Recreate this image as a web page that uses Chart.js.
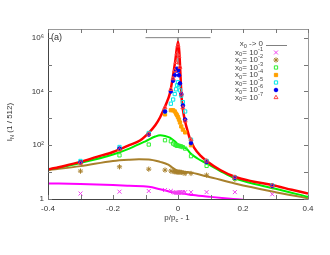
<!DOCTYPE html>
<html><head><meta charset="utf-8">
<script src="https://cdn.jsdelivr.net/npm/chart.js@4.4.0/dist/chart.umd.min.js"></script>
<style>html,body{margin:0;padding:0;background:#fff}</style>
</head><body>
<canvas id="c" width="330" height="255"></canvas>
<script>
// measured points (same p/pc-1 for every x0)
const ptX = [-0.3, -0.18, -0.09, -0.04, -0.022, -0.015, -0.01, -0.006, -0.003, 0, 0.003, 0.006, 0.01, 0.015, 0.022, 0.04, 0.088, 0.175, 0.29];
const pts1 = [1.6, 1.87, 1.98, 2.15, 2.0, 1.8, 1.75, 1.7, 1.7, 1.7, 1.75, 1.8, 1.8, 1.8, 1.8, 1.8, 1.8, 1.8, 1.5];
const pts2 = [10.9, 15.7, 12.9, 11.9, 11, 10.5, 10.3, 10.3, 10, 10, 10, 10, 9.8, 9.5, 8.9, 8.9, 7.7, 5.4, 2.9];
const pts3 = [23, 42, 106, 153, 140, 115, 105, 100, 95, 95, 95, 92, 90, 85, 75, 39, 17, 5.8, 3.0];
const pts4 = [22, 72, 260, 1400, 2000, 2000, 1800, 1500, 1300, 1100, 900, 700, 500, 380, 300, 100, 25, 6.3, 3.1];
const pts5 = [26, 86, 285, 1800, 3500, 5000, 8000, 12000, 17000, 22000, 17000, 11000, 7000, 4000, 1800, 160, 26, 6.4, 3.2];
const pts6 = [23, 75, 250, 1800, 10000, 25000, 40000, 60000, 70000, 60000, 40000, 20000, 8000, 3000, 900, 120, 24, 6.2, 3.1];
const pts7 = [22, 68, 260, 2500, 12000, 30000, 60000, 120000, 250000, 500000, 200000, 80000, 8000, 2500, 800, 160, 26, 6.5, 3.2];

// fitted curves
const limitX = [-0.1, 0, 0, 0, 0.1];
const limitY = [1e6, 1e6, 1e5, 1e6, 1e6];
const magX = [-0.4, -0.3, -0.2, -0.15, -0.09, -0.055, -0.03, -0.015, 0, 0.02, 0.046, 0.1, 0.17, 0.2, 0.3];
const magY = [3.8, 3.6, 3.3, 3.1, 2.85, 2.3, 1.95, 1.75, 1.65, 1.55, 1.4, 1.2, 1.0, 0.93, 0.7];
const brownX = [-0.4, -0.3, -0.2, -0.15, -0.12, -0.09, -0.055, -0.03, -0.015, 0, 0.03, 0.088, 0.175, 0.29, 0.4];
const brownY = [11.9, 16.7, 26, 29, 30, 29.5, 24, 19, 14, 11, 10, 7, 3.8, 1.9, 1.06];
const greenX = [-0.4, -0.3, -0.2, -0.15, -0.1, -0.07, -0.055, -0.04, -0.025, -0.01, 0, 0.01, 0.027, 0.04, 0.06, 0.088, 0.13, 0.175, 0.25, 0.3, 0.4];
const greenY = [12.4, 22, 45, 75, 140, 210, 235, 220, 190, 140, 108, 92, 72, 48, 32, 21, 11, 5.9, 3.3, 2.4, 1.2];
const redX = [-0.4, -0.35, -0.3, -0.25, -0.2, -0.15, -0.117, -0.09, -0.07, -0.055, -0.045, -0.035, -0.025, -0.015, -0.008, 0, 0.004, 0.011, 0.016, 0.0215, 0.03, 0.037, 0.05, 0.07, 0.088, 0.13, 0.175, 0.23, 0.29, 0.35, 0.4];
const redY = [12.6, 17, 24, 37, 56, 100, 150, 290, 550, 1100, 2000, 3800, 8500, 40000, 150000, 700000, 300000, 6000, 1800, 800, 320, 170, 80, 40, 26, 12, 6.7, 4.5, 3.3, 2.2, 1.6];

const yTickValues = [1, 1e2, 1e4, 1e6];
const yTickLabels = ['1', '10²', '10⁴', '10⁶'];
const yMinor = [10, 1e3, 1e5];
const xTickAll = [-0.4, -0.3, -0.2, -0.1, 0, 0.1, 0.2, 0.3, 0.4];
const legendExp = ['-1', '-2', '-3', '-4', '-5', '-6', '-7'];

const FONT = '"Liberation Sans", Arial, sans-serif';
const colPts = ['#f040f0', '#a8802c', '#30f030', '#ffa000', '#00e8e8', '#0000f0', '#ff4040'];
const styles = ['crossRot', 'star', 'rect', 'rect', 'rect', 'circle', 'triangle'];
const filled = [false, false, false, true, false, true, false];
const radii = [2.8, 2.6, 2.3, 2.3, 2.3, 1.8, 2.3];

function xy(xs, ys) { return xs.map((v, i) => ({x: v, y: ys[i]})); }

const allPts = [pts1, pts2, pts3, pts4, pts5, pts6, pts7];
const pointSets = allPts.map((p, i) => ({
    label: 'x0=10' + legendExp[i],
    data: xy(ptX, p),
    showLine: false,
    pointStyle: styles[i],
    pointRadius: radii[i],
    pointBorderWidth: 1,
    pointBorderColor: colPts[i],
    pointBackgroundColor: filled[i] ? colPts[i] : 'rgba(0,0,0,0)',
    order: 9 - i
}));

function curve(xs, ys, color, w, ord) {
    return {data: xy(xs, ys), showLine: true, borderColor: color, borderWidth: w,
        pointRadius: 0, cubicInterpolationMode: 'monotone', clip: 0, order: ord};
}
const curveSets = [
    Object.assign(curve(limitX, limitY, '#808080', 1, 20), {cubicInterpolationMode: 'default', tension: 0}),
    curve(magX, magY, '#ff00ff', 2, 19),
    curve(brownX, brownY, '#a8802c', 2, 18),
    curve(greenX, greenY, '#00ee00', 2, 17),
    curve(redX, redY, '#ff0000', 2.5, 10)
];

function drawParts(ctx, parts, x, y, align, size) {
    let w = 0;
    parts.forEach(p => { ctx.font = (p.s ? size * 0.7 : size) + 'px ' + FONT; p.w = ctx.measureText(p.t).width; w += p.w; });
    let cx = align == 'right' ? x - w : (align == 'center' ? x - w / 2 : x);
    parts.forEach(p => {
        ctx.font = (p.s ? size * 0.7 : size) + 'px ' + FONT;
        let dy = p.s == 'sub' ? size * 0.3 : (p.s == 'sup' ? -size * 0.4 : 0);
        ctx.fillText(p.t, cx, y + dy);
        cx += p.w;
    });
}

const decor = {
    id: 'decor',
    afterDraw(chart) {
        const {ctx, chartArea: a, scales: {x, y}} = chart;
        ctx.save();
        ctx.lineWidth = 1;
        ctx.strokeStyle = '#999';
        ctx.beginPath();
        ctx.moveTo(a.left, a.top + 0.5); ctx.lineTo(a.right + 0.5, a.top + 0.5); ctx.lineTo(a.right + 0.5, a.bottom);
        ctx.stroke();
        ctx.strokeStyle = '#444';
        ctx.beginPath();
        ctx.moveTo(a.left + 0.5, a.top); ctx.lineTo(a.left + 0.5, a.bottom + 0.5); ctx.lineTo(a.right + 0.5, a.bottom + 0.5);
        ctx.stroke();
        ctx.strokeStyle = '#777';
        ctx.beginPath();
        xTickAll.forEach(v => {
            const px = Math.round(x.getPixelForValue(v)) + 0.5;
            ctx.moveTo(px, a.bottom); ctx.lineTo(px, a.bottom - 4);
            ctx.moveTo(px, a.top); ctx.lineTo(px, a.top + 4);
        });
        yTickValues.concat(yMinor).forEach(v => {
            const py = Math.round(y.getPixelForValue(v)) + 0.5;
            ctx.moveTo(a.left, py); ctx.lineTo(a.left + 4, py);
            ctx.moveTo(a.right, py); ctx.lineTo(a.right - 4, py);
        });
        ctx.stroke();

        ctx.fillStyle = '#333';
        ctx.textBaseline = 'middle';
        drawParts(ctx, [{t: '(a)'}], a.left + 3, 38, 'left', 9);
        drawParts(ctx, [{t: 'p/p'}, {t: 'c', s: 'sub'}, {t: ' - 1'}], 177, 218, 'center', 8);
        ctx.save();
        ctx.translate(10, 122);
        ctx.rotate(-Math.PI / 2);
        drawParts(ctx, [{t: 'I'}, {t: 'N', s: 'sub'}, {t: ' (1 / 512)'}], 0, 0, 'center', 8);
        ctx.restore();

        // legend
        const tx = 263, sx = 276;
        let ly = 45;
        ctx.fillStyle = '#444';
        drawParts(ctx, [{t: 'x'}, {t: '0', s: 'sub'}, {t: ' -> 0'}], tx, ly - 1, 'right', 8);
        ctx.strokeStyle = '#808080';
        ctx.beginPath(); ctx.moveTo(266, ly + 0.5); ctx.lineTo(287, ly + 0.5); ctx.stroke();
        legendExp.forEach((e, i) => {
            ly += 7.5;
            ctx.fillStyle = '#444';
            drawParts(ctx, [{t: 'x'}, {t: '0', s: 'sub'}, {t: '= 10'}, {t: e, s: 'sup'}], tx, ly, 'right', 8);
            ctx.strokeStyle = colPts[i];
            ctx.fillStyle = filled[i] ? colPts[i] : 'rgba(0,0,0,0)';
            ctx.lineWidth = 1;
            Chart.helpers.drawPoint(ctx, {pointStyle: styles[i], radius: radii[i], borderWidth: 1, rotation: 0}, sx, ly);
        });
        ctx.restore();
    }
};

new Chart(document.getElementById('c'), {
    type: 'scatter',
    data: {datasets: pointSets.concat(curveSets)},
    options: {
        responsive: false,
        animation: false,
        devicePixelRatio: 1,
        layout: {padding: {left: 0, right: 22, top: 29, bottom: 0}},
        plugins: {legend: {display: false}, tooltip: {enabled: false}},
        scales: {
            x: {
                type: 'linear', min: -0.4, max: 0.4,
                grid: {display: false, drawTicks: false}, border: {display: false},
                afterFit: s => { s.height = 56; },
                ticks: {stepSize: 0.2, padding: 5, color: '#333', font: {family: FONT, size: 8},
                    maxRotation: 0, callback: v => Math.abs(v) < 1e-9 ? '0' : String(Math.round(v * 10) / 10)}
            },
            y: {
                type: 'logarithmic', min: 1, max: 2.1e6,
                grid: {display: false, drawTicks: false}, border: {display: false},
                afterFit: s => { s.width = 48; },
                afterBuildTicks: s => { s.ticks = yTickValues.map(v => ({value: v})); },
                ticks: {padding: 4, color: '#333', font: {family: FONT, size: 8},
                    callback: v => { const k = yTickValues.indexOf(v); return k < 0 ? '' : yTickLabels[k]; }}
            }
        }
    },
    plugins: [decor]
});
</script>
</body></html>
